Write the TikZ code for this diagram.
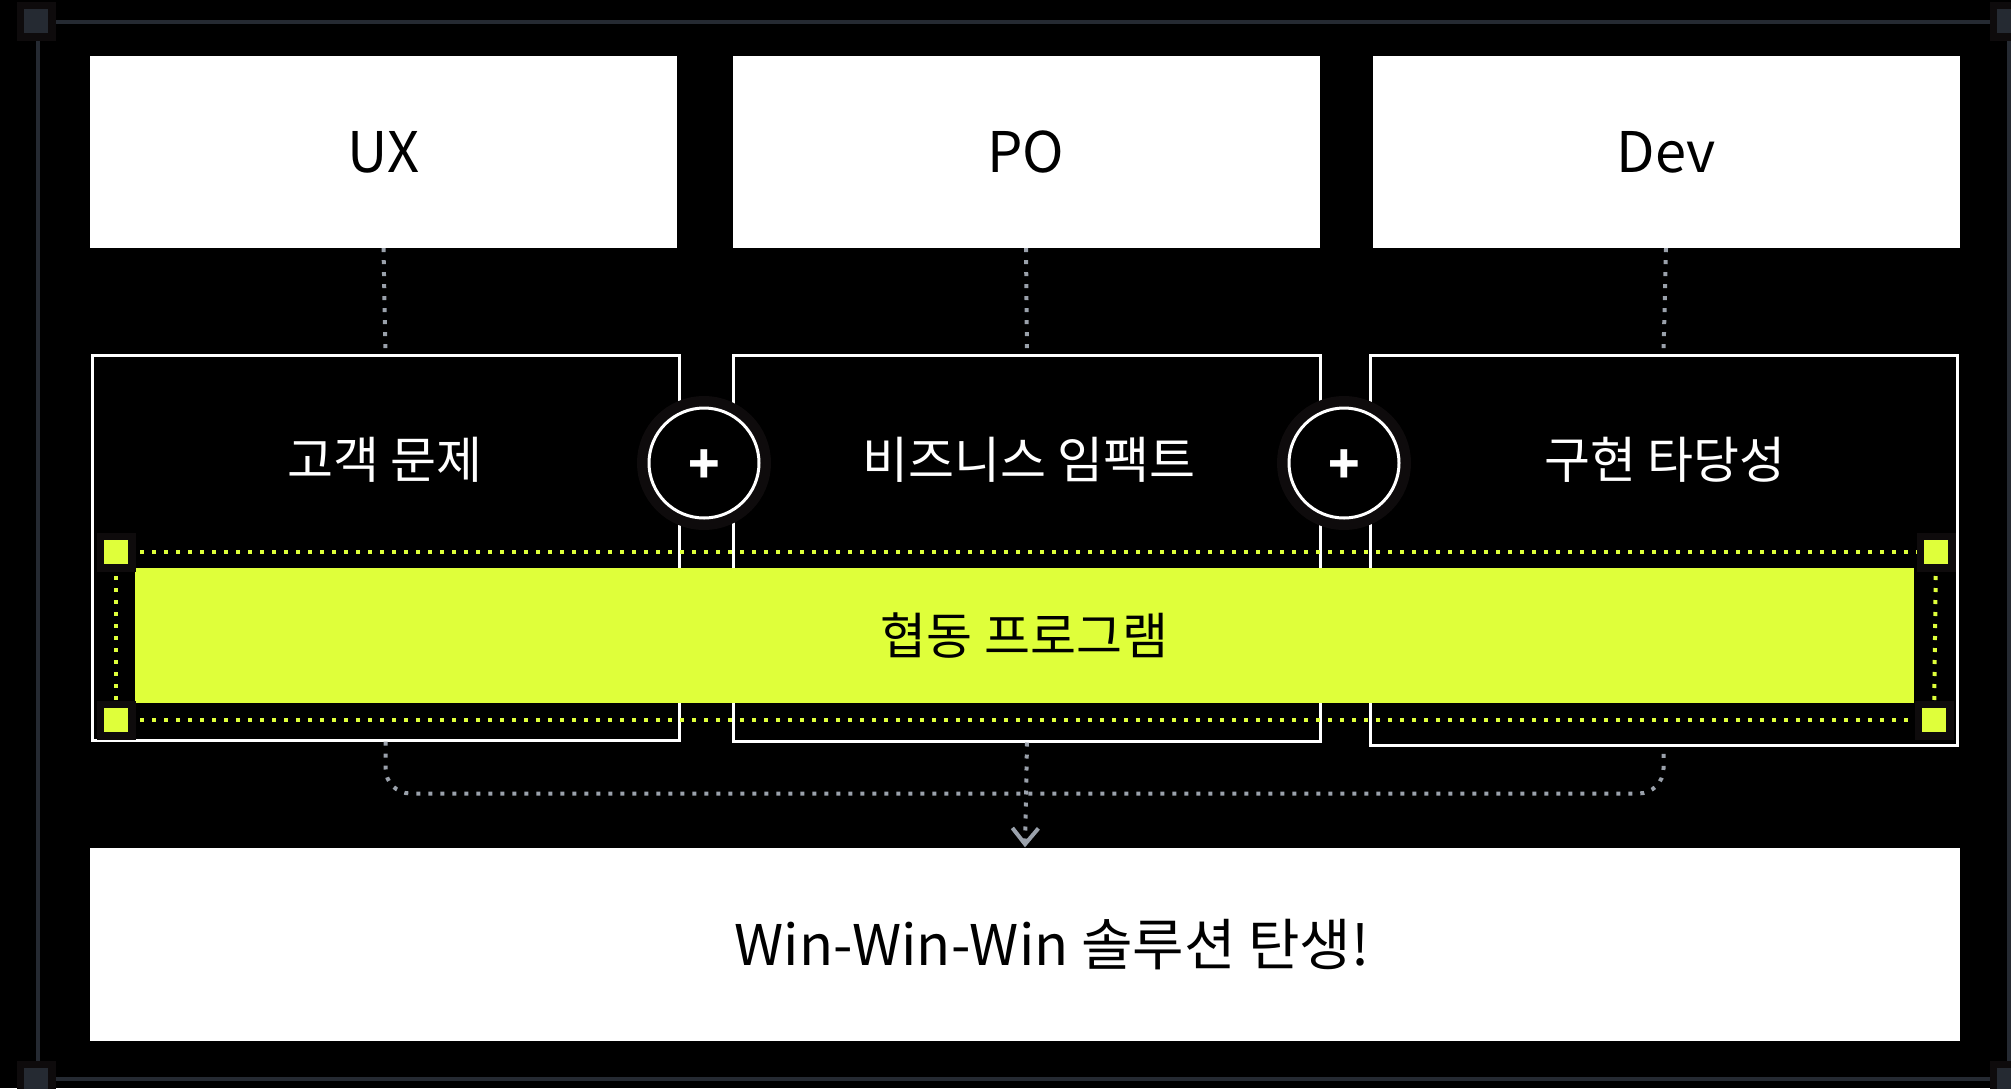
\documentclass[tikz,border=0pt]{standalone}
\usepackage{fontspec}
\setmainfont{Noto Sans CJK KR}
\usetikzlibrary{arrows.meta}
\definecolor{lime}{HTML}{DFFF3A}
\definecolor{framec}{HTML}{252A32}
\definecolor{haloc}{HTML}{0E0B0C}
\definecolor{dotgray}{HTML}{9AA1AB}
\begin{document}
\begin{tikzpicture}[x=1pt,y=-1pt,
  topbox/.style={fill=white, draw=none, minimum width=587pt, minimum height=192pt, inner sep=0pt, text=black, font=\fontsize{56}{60}\selectfont},
  midbox/.style={draw=white, line width=3pt, minimum width=587pt, inner sep=0pt},
  midlabel/.style={text=white, inner sep=0pt, font=\fontsize{50}{56}\selectfont},
  pluscirc/.style={circle, minimum size=110pt, inner sep=0pt, fill=black, draw=white, line width=3pt,
     preaction={draw=haloc, line width=24pt}},
  plustext/.style={text=white, inner sep=0pt, font=\bfseries\fontsize{52}{52}\selectfont},
  handle/.style={minimum size=31.5pt, inner sep=0pt, fill=lime, draw=haloc, line width=7.5pt},
  cornersq/.style={minimum size=31.5pt, inner sep=0pt, fill=framec, draw=haloc, line width=7.5pt},
  gdot/.style={draw=dotgray, line width=4pt, dash pattern=on 4pt off 8pt},
  ydot/.style={draw=lime, line width=4pt, dash pattern=on 4pt off 8pt},
  conarrow/.style={draw=dotgray, line width=4pt, dash pattern=on 4pt off 8pt, -{Straight Barb[length=16pt, width=26pt, line width=4pt]}},
]
\fill[black] (0,0) rectangle (2011,1088);
\useasboundingbox (0,0) rectangle (2011,1088);
% frame
\draw[framec, line width=3.5pt] (38,22) rectangle (2009,1079);
\node[cornersq] (c1) at (36,21) {};
\node[cornersq] (c2) at (2009,21) {};
\node[cornersq] (c3) at (36,1080) {};
\node[cornersq] (c4) at (2009,1080) {};
% top boxes
\node[topbox] (ux) at (383.5,152) {UX};
\node[topbox] (po) at (1026,152) {PO};
\node[topbox] (dev) at (1666,152) {Dev};
% bottom box
\node[topbox, minimum width=1870pt, minimum height=193pt] (win) at (1025,944) {};
\node[text=black, inner sep=0pt, font=\fontsize{56}{60}\selectfont] (wintext) at (1052,945) {Win-Win-Win 솔루션 탄생!};
% middle boxes
\node[midbox, minimum height=385pt] (uxm) at (385.5,547.5) {};
\node[midbox, minimum height=386pt] (pom) at (1027,548) {};
\node[midbox, minimum height=390pt] (devm) at (1663.5,550) {};
% connectors top
\draw[gdot] (ux.south) -- (uxm.north);
\draw[gdot] (po.south) -- (pom.north);
\draw[gdot] (dev.south) -- (devm.north);
% bottom connectors
\draw[gdot, rounded corners=25pt] (uxm.south) -- ++(0,52) -| (devm.south);
\draw[conarrow] (pom.south) -- (win.north);
% plus circles
\node[pluscirc] (p1) at (704,463) {};
\node[pluscirc] (p2) at (1344,463) {};
\node[plustext] (p1t) at ([yshift=-4pt]p1.center) {+};
\node[plustext] (p2t) at ([yshift=-4pt]p2.center) {+};
% labels
\node[midlabel] (uxl) at (385,460) {고객 문제};
\node[midlabel] (pol) at (1029,460) {비즈니스 임팩트};
\node[midlabel] (devl) at (1665,460) {구현 타당성};
% yellow bar
\node[fill=lime, minimum width=1779pt, minimum height=135pt, inner sep=0pt, text=black, font=\fontsize{50}{56}\selectfont] (bar) at (1024.5,635.5) {협동 프로그램};
% selection handles
\coordinate (tl) at (116,552);
\coordinate (tr) at (1936,552);
\coordinate (bl) at (116,720);
\coordinate (br) at (1934,720);
\draw[ydot] (tl) -- (tr);
\draw[ydot] (bl) -- (br);
\draw[ydot] (tl) -- (bl);
\draw[ydot] (tr) -- (br);
\node[handle] (htl) at (tl) {};
\node[handle] (htr) at (tr) {};
\node[handle] (hbl) at (bl) {};
\node[handle] (hbr) at (br) {};
\end{tikzpicture}
\end{document}
